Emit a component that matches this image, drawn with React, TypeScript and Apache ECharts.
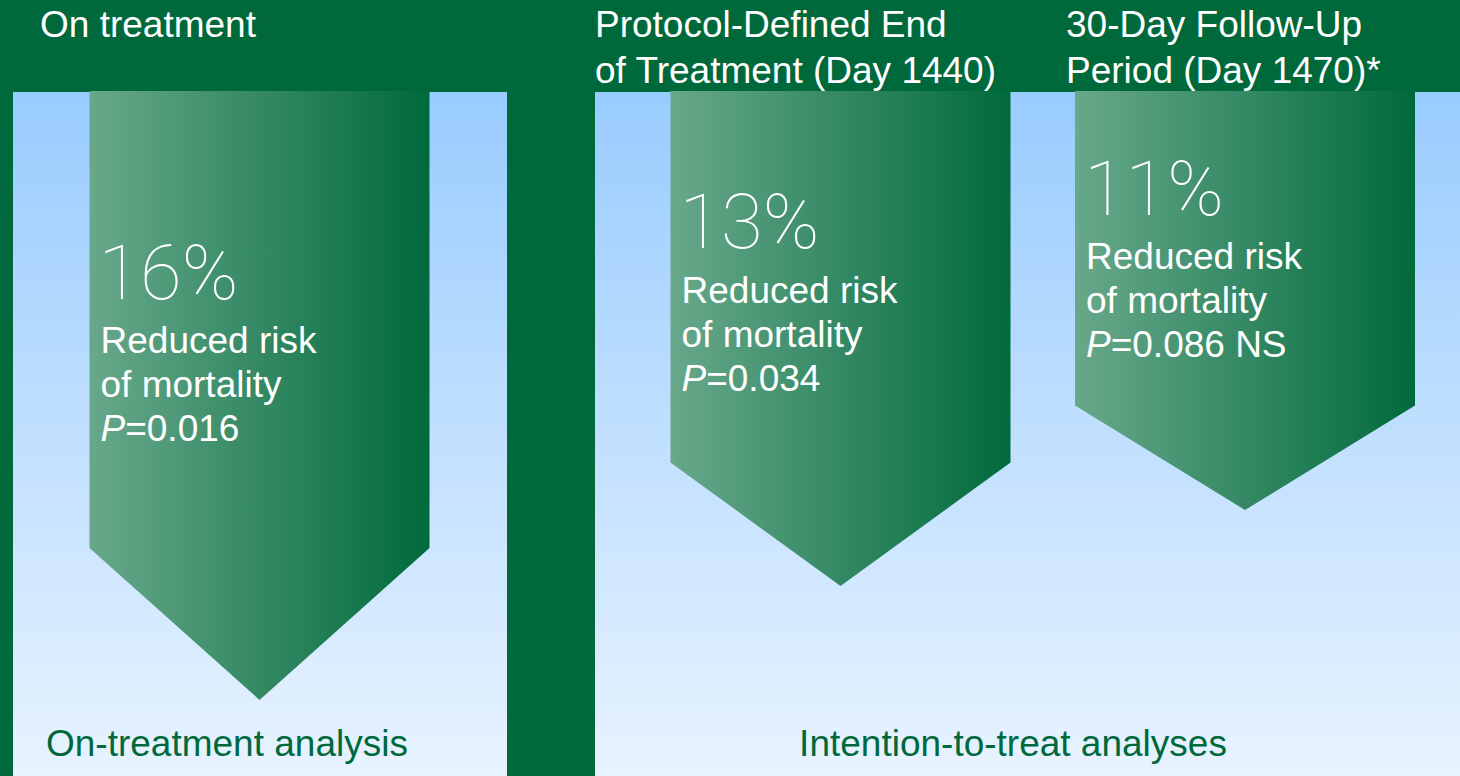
import React, { useEffect, useRef } from "react";
import * as echarts from "echarts";

// ---- data ----
const ARROW_LABELS = ["On-treatment", "Day 1440", "Day 1470"];
const RISK_REDUCTION = [16, 13, 11];
const P_VALUES = ["0.016", "0.034", "0.086 NS"];
const HEADERS = ["On treatment", "Protocol-Defined End\nof Treatment (Day 1440)", "30-Day Follow-Up\nPeriod (Day 1470)*"];
const PANEL_TITLES = ["On-treatment analysis", "Intention-to-treat analyses"];

// ---- layout / style ----
const W = 1460;
const H = 776;
const DARK = "#00693C";
const ARROW_CENTER_X = [259.5, 840.5, 1245];
const ARROW_HALF_W = 170;
const HEAD_FRACTION = 0.25;
const SANS = "'Liberation Sans', Arial, sans-serif";
const FS = 37;

export default function App() {
  const ref = useRef<HTMLDivElement>(null);

  useEffect(() => {
    document.body.style.margin = "0";
    document.body.style.overflow = "hidden";
    const chart = echarts.init(ref.current!, null, { renderer: "svg" });

    const panelFill = () =>
      new echarts.graphic.LinearGradient(0, 0, 0, 1, [
        { offset: 0, color: "#99CCFF" },
        { offset: 1, color: "#E8F3FF" },
      ]);

    const option: any = {
      animation: false,
      backgroundColor: DARK,
      grid: { left: 0, right: 0, top: 92, bottom: 0 },
      xAxis: { type: "value", min: 0, max: W, show: false },
      yAxis: { type: "value", min: 0, max: 18, inverse: true, show: false },
      graphic: [
        { type: "rect", z: -10, shape: { x: 13, y: 92, width: 494, height: H - 92 }, style: { fill: panelFill() } },
        { type: "rect", z: -10, shape: { x: 595, y: 92, width: W - 595, height: H - 92 }, style: { fill: panelFill() } },
        {
          type: "text", x: 40, y: 1,
          style: { text: HEADERS[0], fill: "#fff", font: `${FS}px ${SANS}`, lineHeight: 46 },
        },
        {
          type: "text", x: 595, y: 1,
          style: { text: HEADERS[1], fill: "#fff", font: `${FS}px ${SANS}`, lineHeight: 46 },
        },
        {
          type: "text", x: 1066, y: 1,
          style: { text: HEADERS[2], fill: "#fff", font: `${FS}px ${SANS}`, lineHeight: 46 },
        },
        {
          type: "text", x: 46, y: 743,
          style: { text: PANEL_TITLES[0], fill: DARK, font: `${FS}px ${SANS}`, verticalAlign: "middle" },
        },
        {
          type: "text", x: 1013, y: 743,
          style: { text: PANEL_TITLES[1], fill: DARK, font: `${FS}px ${SANS}`, align: "center", verticalAlign: "middle" },
        },
      ],
      series: [
        {
          type: "custom",
          name: "Reduced risk of mortality",
          data: RISK_REDUCTION.map((v, i) => [i, v]),
          renderItem: (params: any, api: any) => {
            const i = params.dataIndex;
            const v = api.value(1);
            const top = api.coord([0, 0])[1];
            const tip = api.coord([0, v])[1];
            const cx = api.coord([ARROW_CENTER_X[i], 0])[0];
            const len = tip - top;
            const shoulder = top + (1 - HEAD_FRACTION) * len;
            const left = cx - ARROW_HALF_W;
            const right = cx + ARROW_HALF_W;
            const pctY = top + 0.44 * len - 87;
            const fill = new echarts.graphic.LinearGradient(0, 0, 1, 0, [
              { offset: 0, color: "#68A88B" },
              { offset: 1, color: "#006A3C" },
            ]);
            const tx = left + 11;
            return {
              type: "group",
              children: [
                {
                  type: "polygon",
                  shape: { points: [[left, top - 1], [right, top - 1], [right, shoulder], [cx, tip], [left, shoulder]] },
                  style: { fill },
                },
                {
                  type: "text", x: tx - 2, y: pctY,
                  style: {
                    text: `${v}%`, fill: "#fff", fontFamily: "Roboto, sans-serif", fontWeight: 100,
                    fontSize: 76, verticalAlign: "middle",
                  },
                },
                {
                  type: "text", x: tx, y: pctY + 68,
                  style: { text: "Reduced risk", fill: "#fff", font: `${FS}px ${SANS}`, verticalAlign: "middle" },
                },
                {
                  type: "text", x: tx, y: pctY + 112,
                  style: { text: "of mortality", fill: "#fff", font: `${FS}px ${SANS}`, verticalAlign: "middle" },
                },
                {
                  type: "text", x: tx, y: pctY + 156,
                  style: {
                    text: `{i|P}{n|=${P_VALUES[i]}}`, fill: "#fff", verticalAlign: "middle",
                    rich: {
                      i: { fill: "#fff", font: `italic ${FS}px ${SANS}` },
                      n: { fill: "#fff", font: `${FS}px ${SANS}` },
                    },
                  },
                },
              ],
            };
          },
        },
      ],
    };
    chart.setOption(option);
    return () => chart.dispose();
  }, []);

  return <div ref={ref} style={{ width: W, height: H }} aria-label={ARROW_LABELS.join(", ")} />;
}
